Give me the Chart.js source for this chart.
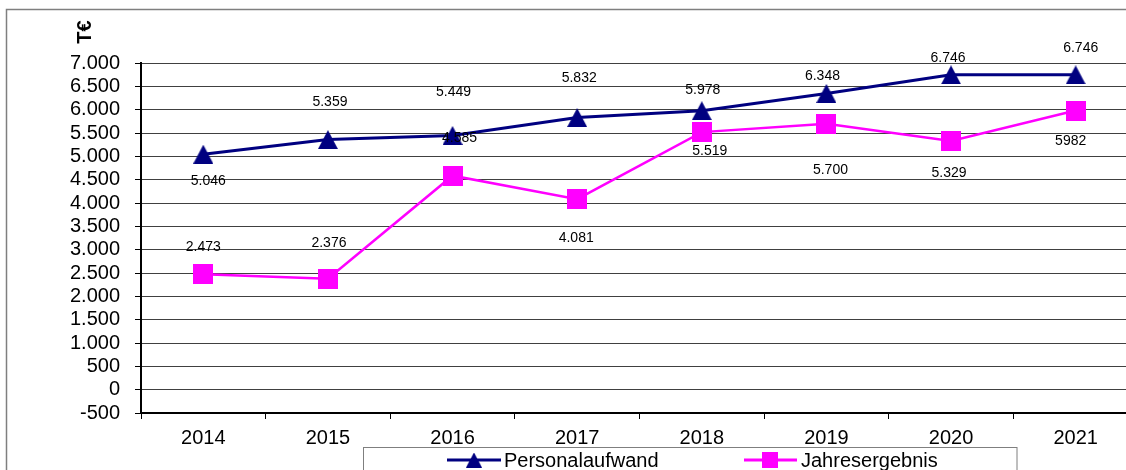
<!DOCTYPE html>
<html>
<head>
<meta charset="utf-8">
<script src="https://cdn.jsdelivr.net/npm/chart.js@4/dist/chart.umd.min.js"></script>
<style>
html,body{margin:0;padding:0;background:#fff;overflow:hidden;width:1126px;height:470px}
#c{position:absolute;left:0;top:0}
</style>
</head>
<body>
<canvas id="c" width="1170" height="470"></canvas>
<script>
// ---- data ----
const years = ['2014','2015','2016','2017','2018','2019','2020','2021'];
const personalaufwand = [5046, 5359, 5449, 5832, 5978, 6348, 6746, 6746];
const jahresergebnis = [2473, 2376, 4585, 4081, 5519, 5700, 5329, 5982];
const personalLabels = ['5.046','5.359','5.449','5.832','5.978','6.348','6.746','6.746'];
const jahresLabels = ['2.473','2.376','4.585','4.081','5.519','5.700','5.329','5982'];
const yMin = -500, yMax = 7000, yStep = 500;
const seriesNames = ['Personalaufwand', 'Jahresergebnis'];
const unitLabel = 'T€';

// ---- styles ----
const FONT = "'Liberation Sans', Arial, sans-serif";
const NAVY = '#000080', MAGENTA = '#FF00FF';
// label offsets (dx, dy) relative to point, layout only
const personalOffsets = [[5,27],[2,-37],[1,-43],[2,-39],[1,-21],[-4,-17],[-3,-17],[5,-27]];
const jahresOffsets = [[0,-27],[1,-36],[7,-38],[-1,39],[8,19],[4,46],[-2,32],[-5,31]];

function makeTri(w, h, color) {
  const c = document.createElement('canvas'); c.width = w; c.height = h;
  const x = c.getContext('2d'); x.fillStyle = color;
  x.beginPath(); x.moveTo(w/2, 0); x.lineTo(w, h); x.lineTo(0, h); x.closePath(); x.fill();
  return c;
}
function makeSq(w, h, color) {
  const c = document.createElement('canvas'); c.width = w; c.height = h;
  const x = c.getContext('2d'); x.fillStyle = color; x.fillRect(0, 0, w, h);
  return c;
}
const triImg = makeTri(20, 19, NAVY);
const sqImg = makeSq(20, 20, MAGENTA);

function fmt(v) {
  const s = Math.abs(v).toString().replace(/\B(?=(\d{3})+(?!\d))/g, '.');
  return (v < 0 ? '-' : '') + s;
}

const decor = {
  id: 'decor',
  beforeDraw(chart) {
    const ctx = chart.ctx;
    ctx.save();
    ctx.strokeStyle = '#7f7f7f'; ctx.lineWidth = 1.5;
    ctx.strokeRect(6.5, 9.5, 2000, 1000);
    ctx.restore();
  },
  afterDatasetsDraw(chart) {
    const ctx = chart.ctx;
    const xs = chart.scales.x, ys = chart.scales.y;
    ctx.save();
    ctx.fillStyle = '#000';
    ctx.font = '14px ' + FONT;
    ctx.textAlign = 'center'; ctx.textBaseline = 'middle';
    [[personalaufwand, personalLabels, personalOffsets], [jahresergebnis, jahresLabels, jahresOffsets]].forEach(([vals, labs, offs]) => {
      vals.forEach((v, i) => {
        const px = xs.getPixelForValue(i), py = ys.getPixelForValue(v);
        ctx.fillText(labs[i], px + offs[i][0], py + offs[i][1]);
      });
    });
    // unit label
    ctx.save();
    ctx.translate(85, 32); ctx.rotate(-Math.PI/2);
    ctx.font = 'bold 20px ' + FONT;
    ctx.fillText(unitLabel, 0, 0);
    ctx.restore();
    // legend
    ctx.strokeStyle = '#7f7f7f'; ctx.lineWidth = 1;
    ctx.strokeRect(363.5, 447.5, 653.5, 60);
    const ly = 460;
    ctx.lineWidth = 3;
    ctx.strokeStyle = NAVY;
    ctx.beginPath(); ctx.moveTo(447, ly); ctx.lineTo(501, ly); ctx.stroke();
    ctx.drawImage(triImg, 474 - 8, ly - 7.5, 16, 15);
    ctx.strokeStyle = MAGENTA;
    ctx.beginPath(); ctx.moveTo(744, ly); ctx.lineTo(797, ly); ctx.stroke();
    ctx.drawImage(sqImg, 770 - 8, ly - 8, 16, 16);
    ctx.fillStyle = '#000';
    ctx.font = '20px ' + FONT;
    ctx.textAlign = 'left';
    ctx.fillText(seriesNames[0], 504, ly + 1);
    ctx.fillText(seriesNames[1], 801, ly + 1);
    ctx.restore();
  }
};

new Chart(document.getElementById('c'), {
  type: 'line',
  data: {
    labels: years,
    datasets: [
      { label: seriesNames[0], data: personalaufwand, borderColor: NAVY, backgroundColor: NAVY,
        borderWidth: 3, pointStyle: triImg, pointRadius: 10, tension: 0 },
      { label: seriesNames[1], data: jahresergebnis, borderColor: MAGENTA, backgroundColor: MAGENTA,
        borderWidth: 2.5, pointStyle: sqImg, pointRadius: 10, tension: 0 }
    ]
  },
  options: {
    responsive: false,
    animation: false,
    events: [],
    layout: { padding: { left: 0, top: 63, right: 32, bottom: 0 } },
    plugins: { legend: { display: false }, tooltip: { enabled: false }, title: { display: false } },
    scales: {
      x: {
        offset: true,
        grid: { display: true, drawOnChartArea: false, drawTicks: true, tickLength: 6, offset: true, color: '#000', tickColor: '#000' },
        border: { display: true, color: '#000', width: 2 },
        ticks: { color: '#000', font: { family: FONT, size: 20 }, padding: 7, maxRotation: 0, autoSkip: false },
        afterFit(s) { s.height = 57; }
      },
      y: {
        min: yMin, max: yMax,
        grid: { color: '#404040', lineWidth: 1, tickLength: 6, tickColor: '#000' },
        border: { display: true, color: '#000', width: 2 },
        ticks: { stepSize: yStep, color: '#000', font: { family: FONT, size: 20 }, padding: 15, autoSkip: false,
          callback: (v) => fmt(v) },
        afterFit(s) { s.width = 141; }
      }
    }
  },
  plugins: [decor]
});
</script>
</body>
</html>
